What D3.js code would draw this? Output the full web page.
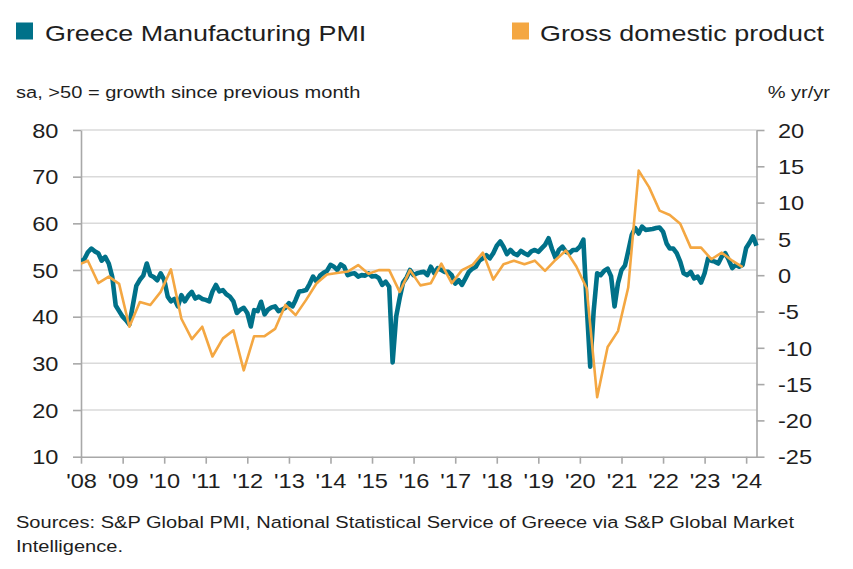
<!DOCTYPE html>
<html>
<head>
<meta charset="utf-8">
<script src="https://cdn.jsdelivr.net/npm/d3@7"></script>
<style>
    body { margin: 0; background: #fff; }
    text { font-family: "Liberation Sans", Arial, sans-serif; fill: #1e1e1e; }
</style>
</head>
<body>
<div id="chart"></div>
<script>
// PMI, monthly from Jan 2008 (sa, >50 = growth)
var pmiStart = [2008, 0];
var pmiValues = [
    51.8, 52.4, 53.8, 54.6, 54.0, 53.6, 52.0, 52.8, 51.4, 48.6, 42.4, 41.2, // 2008
    40.0, 39.2, 38.3, 42.5, 46.6, 47.9, 48.8, 51.4, 48.9, 48.5, 47.8, 49.3, // 2009
    47.9, 44.3, 43.3, 43.8, 42.2, 44.6, 43.3, 44.5, 45.3, 43.9, 44.3, 43.8, // 2010
    43.6, 43.3, 45.4, 46.8, 45.4, 45.7, 44.8, 44.3, 43.3, 40.8, 41.5, 41.9, // 2011
    40.8, 37.9, 41.4, 41.2, 43.2, 40.5, 41.5, 42.0, 42.2, 41.2, 41.5, 41.9, // 2012
    42.9, 42.2, 43.6, 45.4, 45.5, 45.7, 47.0, 48.6, 47.5, 48.8, 49.4, 49.8, // 2013
    51.1, 50.7, 50.0, 51.2, 50.7, 48.9, 49.2, 49.3, 48.6, 48.9, 48.8, 49.3, // 2014
    48.6, 48.7, 48.3, 46.8, 47.5, 46.4, 30.2, 40.0, 44.0, 47.3, 48.4, 50.0, // 2015
    48.9, 49.3, 49.5, 49.6, 48.9, 50.7, 49.3, 50.4, 50.0, 49.6, 49.6, 48.9, // 2016
    47.1, 47.8, 46.8, 48.2, 49.6, 50.3, 50.7, 52.0, 52.5, 53.2, 52.5, 53.6, // 2017
    55.2, 56.1, 55.0, 53.4, 54.3, 53.5, 53.2, 54.1, 53.6, 53.2, 54.0, 54.3, // 2018
    53.9, 54.7, 55.4, 56.8, 54.5, 52.6, 54.3, 55.0, 53.9, 53.6, 54.3, 54.3, // 2019
    55.0, 56.5, 42.5, 29.3, 41.1, 49.3, 48.9, 49.8, 50.3, 48.7, 42.2, 47.2, // 2020
    50.0, 51.0, 54.0, 57.5, 59.0, 57.8, 59.3, 58.6, 58.7, 58.8, 59.0, 59.1, // 2021
    58.2, 55.7, 54.6, 54.6, 53.6, 51.8, 49.3, 48.9, 49.6, 48.2, 48.6, 47.3, // 2022
    49.3, 52.5, 52.0, 51.8, 51.4, 52.9, 53.6, 52.2, 50.4, 51.1, 50.7, 51.1, // 2023
    54.7, 55.9, 57.2, 55.2                                                  // 2024
];

// GDP % yr/yr, quarterly from Q4 2007 (drawn on the last month of each quarter)
var gdpStart = [2007, 11];
var gdpValues = [
    1.4,
    2.0, -1.1, -0.2, -1.2,    // 2008
    -7.1, -3.7, -4.1, -2.3,   // 2009
    0.8, -6.0, -8.8, -7.1,    // 2010
    -11.2, -8.7, -7.6, -13.1, // 2011
    -8.4, -8.4, -7.4, -4.1,   // 2012
    -5.5, -3.4, -1.1, 0.1,    // 2013
    0.3, 0.5, 1.4, 0.2,       // 2014
    0.7, 0.7, -2.3, 0.7,      // 2015
    -1.4, -1.1, 1.6, -1.1,    // 2016
    0.7, 1.4, 3.1, -0.6,      // 2017
    1.5, 2.0, 1.5, 2.0,       // 2018
    0.6, 2.1, 3.4, 1.2,       // 2019
    -1.8, -16.8, -9.9, -7.7,  // 2020
    -1.7, 14.4, 12.1, 8.9,    // 2021
    8.3, 7.1, 3.8, 3.8,       // 2022
    2.2, 3.1, 2.0, 1.1        // 2023
];

var yearTicks = d3.range(2008, 2025);
var yearLabels = ["'08", "'09", "'10", "'11", "'12", "'13", "'14", "'15", "'16",
                  "'17", "'18", "'19", "'20", "'21", "'22", "'23", "'24"];
var pmiTicks = [10, 20, 30, 40, 50, 60, 70, 80];
var gdpTicks = [-25, -20, -15, -10, -5, 0, 5, 10, 15, 20];

// ukuran
var width = 853, height = 569;
var plotLeft = 81, plotRight = 756.5, plotTop = 130, plotBottom = 456.7;
var SX = 1.18; // teks di gambar asli agak melebar
var teal = "#007189", orange = "#f4a742";
var axisColor = "#a8a8a8", gridColor = "#dadada";

// data jadi array objek bertanggal
var pmiData = pmiValues.map(function (v, i) {
    return { date: new Date(pmiStart[0], pmiStart[1] + i, 1), value: v };
});
var gdpData = gdpValues.map(function (v, i) {
    return { date: new Date(gdpStart[0], gdpStart[1] + 3 * i, 1), value: v };
});

var x = d3.scaleTime()
    .domain([new Date(2008, 0, 1), new Date(2024, 3, 1)])
    .range([plotLeft, plotRight]);
var yL = d3.scaleLinear().domain([10, 80]).range([plotBottom, plotTop]);
var yR = d3.scaleLinear().domain([-25, 20]).range([plotBottom, plotTop]);

var svg = d3.select("#chart").append("svg")
    .attr("width", width)
    .attr("height", height);

function wideText(parent, px, py, str, size, anchor) {
    return parent.append("text")
        .attr("transform", "translate(" + px + "," + py + ") scale(" + SX + ",1)")
        .attr("text-anchor", anchor || "start")
        .style("font-size", size + "px")
        .text(str);
}

// legend
svg.append("rect").attr("x", 16).attr("y", 22.5).attr("width", 17).attr("height", 17).attr("fill", teal);
wideText(svg, 45, 40.5, "Greece Manufacturing PMI", 22.8);
svg.append("rect").attr("x", 512).attr("y", 22.5).attr("width", 17).attr("height", 17).attr("fill", orange);
wideText(svg, 540, 40.5, "Gross domestic product", 22.8);

// judul sumbu
wideText(svg, 16, 98, "sa, >50 = growth since previous month", 17);
wideText(svg, 830, 98, "% yr/yr", 17, "end");

// garis grid
svg.append("g").selectAll("line")
    .data(pmiTicks.slice(1))
    .enter().append("line")
    .attr("x1", plotLeft).attr("x2", plotRight)
    .attr("y1", function (d) { return yL(d); })
    .attr("y2", function (d) { return yL(d); })
    .attr("stroke", gridColor)
    .attr("stroke-width", 1.5);

// sumbu
function styleAxis(g, tx, ty, anchor) {
    g.select(".domain").attr("stroke", axisColor).attr("stroke-width", 1.6);
    g.selectAll(".tick line").attr("stroke", axisColor).attr("stroke-width", 1.6);
    g.selectAll(".tick text")
        .attr("x", null).attr("y", null).attr("dy", null)
        .attr("text-anchor", anchor)
        .attr("fill", "#1e1e1e")
        .style("font-size", "20px")
        .attr("transform", "translate(" + tx + "," + ty + ") scale(" + SX + ",1)");
}

svg.append("g")
    .attr("transform", "translate(" + plotLeft + ",0)")
    .call(d3.axisLeft(yL).tickValues(pmiTicks).tickSize(8).tickSizeOuter(0))
    .call(styleAxis, -22.5, 7.2, "end");

svg.append("g")
    .attr("transform", "translate(" + plotRight + ",0)")
    .call(d3.axisRight(yR).tickValues(gdpTicks).tickSize(8).tickSizeOuter(0)
        .tickFormat(function (d) { return String(d); }))
    .call(styleAxis, 21.5, 7.2, "start");

svg.append("g")
    .attr("transform", "translate(0," + plotBottom + ")")
    .call(d3.axisBottom(x)
        .tickValues(yearTicks.map(function (yr) { return new Date(yr, 0, 1); }))
        .tickFormat(function (d, i) { return yearLabels[i]; })
        .tickSize(7).tickSizeOuter(0))
    .call(styleAxis, 0, 31.5, "middle");

// clip supaya garis PDB tidak keluar dari area plot
svg.append("clipPath").attr("id", "plot-clip")
    .append("rect")
    .attr("x", plotLeft).attr("y", 0)
    .attr("width", plotRight - plotLeft + 4).attr("height", height);

var pmiLine = d3.line()
    .x(function (d) { return x(d.date); })
    .y(function (d) { return yL(d.value); });
var gdpLine = d3.line()
    .x(function (d) { return x(d.date); })
    .y(function (d) { return yR(d.value); });

svg.append("path")
    .datum(pmiData)
    .attr("clip-path", "url(#plot-clip)")
    .attr("fill", "none")
    .attr("stroke", teal)
    .attr("stroke-width", 4.6)
    .attr("stroke-linejoin", "round")
    .attr("d", pmiLine);

svg.append("path")
    .datum(gdpData)
    .attr("clip-path", "url(#plot-clip)")
    .attr("fill", "none")
    .attr("stroke", orange)
    .attr("stroke-width", 2.6)
    .attr("stroke-linejoin", "round")
    .attr("d", gdpLine);

// sumber
wideText(svg, 16, 528, "Sources: S&P Global PMI, National Statistical Service of Greece via S&P Global Market", 17);
wideText(svg, 16, 552, "Intelligence.", 17);
</script>
</body>
</html>
